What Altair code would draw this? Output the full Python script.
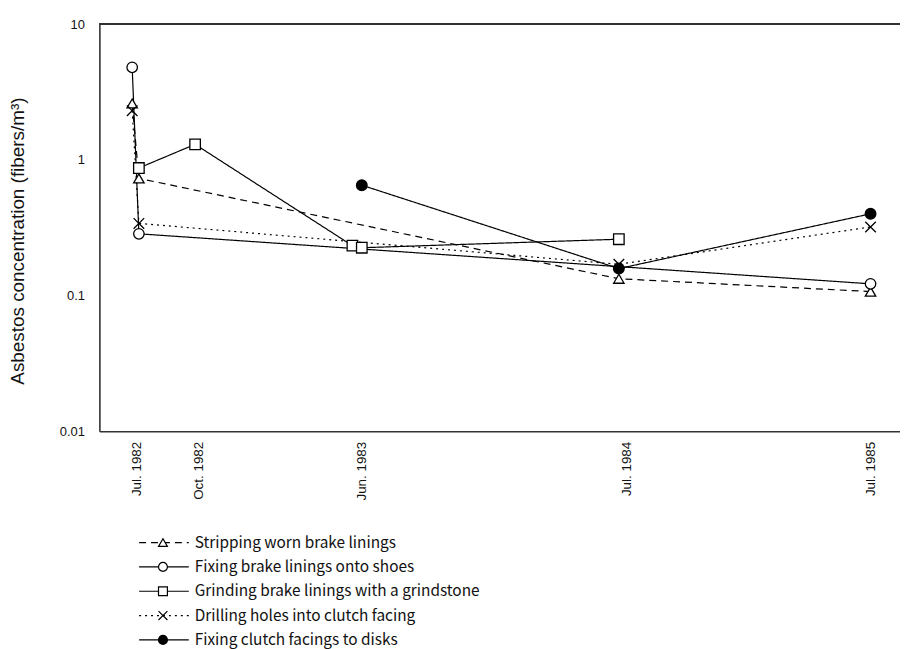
import altair as alt
import pandas as pd

# ---------------- data ----------------
SERIES = [
    "Stripping worn brake linings",
    "Fixing brake linings onto shoes",
    "Grinding brake linings with a grindstone",
    "Drilling holes into clutch facing",
    "Fixing clutch facings to disks",
]

stripping_dates = ["1982-06-24", "1982-07-04", "1984-06-20", "1985-07-01"]
stripping_values = [2.6, 0.73, 0.133, 0.107]

shoes_dates = ["1982-06-24", "1982-07-04", "1985-07-01"]
shoes_values = [4.8, 0.285, 0.122]

grinding_dates = ["1982-07-04", "1982-09-26", "1983-05-19", "1983-06-02", "1984-06-20"]
grinding_values = [0.87, 1.3, 0.233, 0.225, 0.26]

drilling_dates = ["1982-06-24", "1982-07-04", "1984-06-20", "1985-07-01"]
drilling_values = [2.3, 0.34, 0.17, 0.32]

clutch_dates = ["1983-06-02", "1984-06-20", "1985-07-01"]
clutch_values = [0.65, 0.158, 0.40]

x_tick_dates = [(1982, 7), (1982, 10), (1983, 6), (1984, 7), (1985, 7)]
y_tick_values = [0.01, 0.1, 1, 10]

# ---------------- tables ----------------
rows = []
for name, ds, vs in zip(
    SERIES,
    [stripping_dates, shoes_dates, grinding_dates, drilling_dates, clutch_dates],
    [stripping_values, shoes_values, grinding_values, drilling_values, clutch_values],
):
    for d, v in zip(ds, vs):
        rows.append({"series": name, "date": d, "value": v})
df = pd.DataFrame(rows)
legend_df = pd.DataFrame({"series": SERIES, "row": list(range(len(SERIES)))})

# ---------------- styles ----------------
X_PATH = "M-1,-1L1,1M-1,1L1,-1"
dash_scale = alt.Scale(domain=SERIES, range=[[7, 5], [1, 0], [1, 0], [2, 4], [1, 0]])
shape_scale = alt.Scale(domain=SERIES, range=["triangle-up", "circle", "square", X_PATH, "circle"])
fill_scale = alt.Scale(domain=SERIES, range=["white", "white", "white", "white", "black"])
size_scale = alt.Scale(domain=SERIES, range=[110, 115, 135, 120, 120])

AXIS_FONT = "Liberation Sans"
LEG_FONT = "Noto Sans CJK JP"

x_enc = alt.X(
    "date:T",
    scale=alt.Scale(domain=[alt.DateTime(year=1982, month=5, date=6),
                            alt.DateTime(year=1985, month=8, date=14)]),
    axis=alt.Axis(
        values=[alt.DateTime(year=y, month=m, date=1) for y, m in x_tick_dates],
        format="%b. %Y",
        labelAngle=270,
        ticks=False,
        grid=False,
        labelPadding=10,
        labelFontSize=13.5,
        labelFont=AXIS_FONT,
        labelColor="#111",
        domainColor="#333",
        domainWidth=1.6,
        title=None,
    ),
)
y_enc = alt.Y(
    "value:Q",
    scale=alt.Scale(type="log", domain=[0.01, 10]),
    axis=alt.Axis(
        values=y_tick_values,
        format="~g",
        ticks=False,
        grid=False,
        labelPadding=15,
        labelFontSize=13,
        labelFont=AXIS_FONT,
        labelColor="#111",
        domainColor="#333",
        domainWidth=1.6,
        title="Asbestos concentration (fibers/m³)",
        titleFont=AXIS_FONT,
        titleFontSize=19,
        titleFontWeight="normal",
        titleColor="#111",
        titleX=-82,
        titleY=218,
        titleAngle=270,
        titleAlign="center",
        titleBaseline="middle",
    ),
)

top_rule = alt.Chart(legend_df).mark_rule(color="#333", strokeWidth=1.6).encode(
    y=alt.value(0)
)

lines = alt.Chart(df).mark_line(color="black", strokeWidth=1.2).encode(
    x=x_enc,
    y=y_enc,
    detail="series:N",
    strokeDash=alt.StrokeDash("series:N", scale=dash_scale, legend=None),
    order=alt.Order("date:T"),
)

points = alt.Chart(df).mark_point(
    filled=True, stroke="black", strokeWidth=1.3, opacity=1, fillOpacity=1
).encode(
    x=x_enc,
    y=y_enc,
    shape=alt.Shape("series:N", scale=shape_scale, legend=None),
    fill=alt.Fill("series:N", scale=fill_scale, legend=None),
    size=alt.Size("series:N", scale=size_scale, legend=None),
)

main = alt.layer(top_rule, lines, points)

y_leg = alt.Y("row:Q", scale=alt.Scale(domain=[0, 4], range=[522, 620]), axis=None)

leg_rule = alt.Chart(legend_df).mark_rule(color="black", strokeWidth=1.2).encode(
    x=alt.value(40),
    x2=alt.value(90),
    y=y_leg,
    strokeDash=alt.StrokeDash("series:N", scale=dash_scale, legend=None),
)
leg_pts = alt.Chart(legend_df).mark_point(
    filled=True, stroke="black", strokeWidth=1.2, opacity=1, fillOpacity=1
).encode(
    x=alt.value(64),
    y=y_leg,
    shape=alt.Shape("series:N", scale=shape_scale, legend=None),
    fill=alt.Fill("series:N", scale=fill_scale, legend=None),
    size=alt.value(80),
)
leg_txt = alt.Chart(legend_df).mark_text(
    align="left", baseline="middle", font=LEG_FONT, fontSize=15.5, color="#111"
).encode(
    x=alt.value(96),
    y=y_leg,
    text="series:N",
)
legend = alt.layer(leg_rule, leg_pts, leg_txt)

chart = (
    alt.layer(main, legend)
    .resolve_scale(y="independent")
    .properties(
        width=806,
        height=410,
        autosize=alt.AutoSizeParams(type="none"),
        padding={"left": 92, "top": 14, "right": 0, "bottom": 217},
        background="white",
    )
    .configure_view(stroke=None)
)

chart.save("out.html", embed_options={"renderer": "svg", "actions": False})
